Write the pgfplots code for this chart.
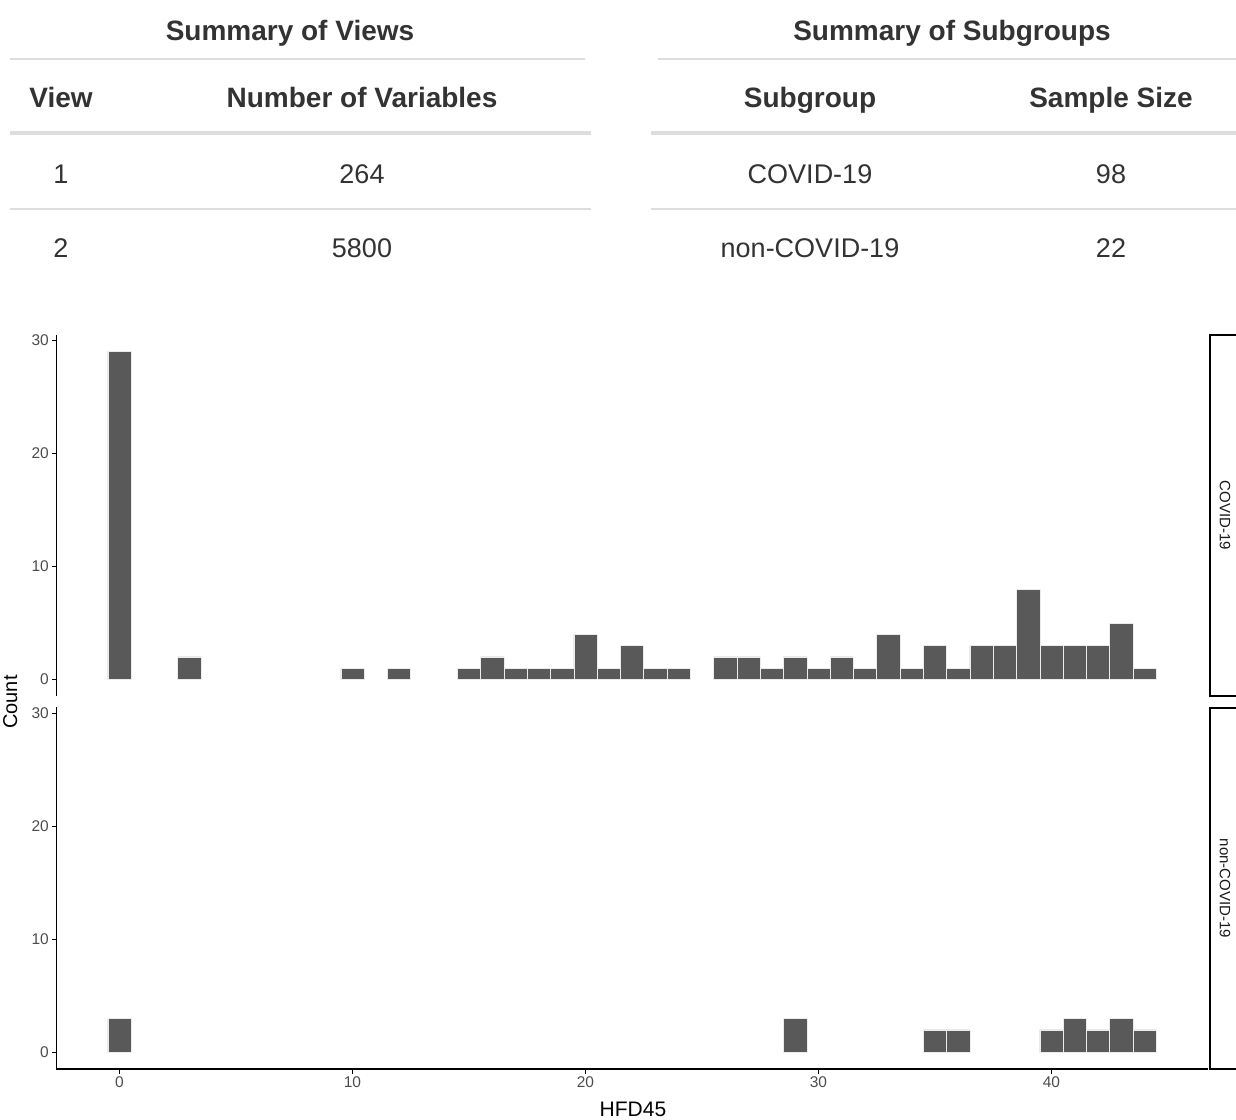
\documentclass[border=0pt]{standalone}
\usepackage{fontspec}
\setmainfont{Liberation Sans}
\usepackage{pgfplots}
\usepackage{pgfplotstable}
\pgfplotsset{compat=1.18}

\definecolor{tabtext}{HTML}{333333}
\definecolor{tabrule}{HTML}{DDDDDD}
\definecolor{barfill}{HTML}{595959}
\definecolor{ticklab}{HTML}{4D4D4D}
\definecolor{striptext}{HTML}{1A1A1A}

% HFD45 histogram counts (bin width 1, centred on integers), zero bins omitted
\pgfplotstableread{
x  n
0  29
3  2
10 1
12 1
15 1
16 2
17 1
18 1
19 1
20 4
21 1
22 3
23 1
24 1
26 2
27 2
28 1
29 2
30 1
31 2
32 1
33 4
34 1
35 3
36 1
37 3
38 3
39 8
40 3
41 3
42 3
43 5
44 1
}\covid

\pgfplotstableread{
x  n
0  3
29 3
35 2
36 2
40 2
41 3
42 2
43 3
44 2
}\noncovid

\newcommand{\tabtitle}{\fontsize{28bp}{32bp}\selectfont\bfseries}
\newcommand{\tabbody}{\fontsize{27bp}{32bp}\selectfont}

\pgfplotsset{
  facet/.style={
    scale only axis,
    width=1151bp, height=361bp,
    xmin=-2.7, xmax=46.7,
    ymin=-1.45, ymax=30.45,
    ytick={0,10,20,30},
    tick pos=left,
    tick align=outside,
    major tick length=4.5bp,
    tick style={black, line width=0.9bp},
    axis line style={draw=none},
    /pgf/number format/assume math mode=true,
    ticklabel style={font=\fontsize{15.5bp}{16bp}\selectfont, text=ticklab},
    yticklabel style={inner sep=3bp},
    xticklabel style={inner sep=3bp},
    clip=false,
  },
  histbar/.style={
    ybar, bar width=1, bar shift=0pt,
    fill=barfill, draw=white!92!black, line width=0.4bp,
  },
}

\begin{document}
\begin{tikzpicture}[x=1bp, y=1bp]

% ---- Summary of Views ----
\node[anchor=base, text=tabtext, font=\tabtitle] at (290,-40) {Summary of Views};
\draw[tabrule, line width=1.3bp] (10,-59) -- (585,-59);
\node[anchor=base, text=tabtext, font=\tabtitle] at (61,-107) {View};
\node[anchor=base, text=tabtext, font=\tabtitle] at (362,-107) {Number of Variables};
\draw[tabrule, line width=3.5bp] (10,-133) -- (591,-133);
\node[anchor=base, text=tabtext, font=\tabbody] at (61,-183) {1};
\node[anchor=base, text=tabtext, font=\tabbody] at (362,-183) {264};
\draw[tabrule, line width=1.3bp] (10,-209) -- (591,-209);
\node[anchor=base, text=tabtext, font=\tabbody] at (61,-257) {2};
\node[anchor=base, text=tabtext, font=\tabbody] at (362,-257) {5800};

% ---- Summary of Subgroups ----
\node[anchor=base, text=tabtext, font=\tabtitle] at (952,-40) {Summary of Subgroups};
\draw[tabrule, line width=1.3bp] (658,-59) -- (1236,-59);
\node[anchor=base, text=tabtext, font=\tabtitle] at (810,-107) {Subgroup};
\node[anchor=base, text=tabtext, font=\tabtitle] at (1111,-107) {Sample Size};
\draw[tabrule, line width=3.5bp] (651,-133) -- (1236,-133);
\node[anchor=base, text=tabtext, font=\tabbody] at (810,-183) {COVID-19};
\node[anchor=base, text=tabtext, font=\tabbody] at (1111,-183) {98};
\draw[tabrule, line width=1.3bp] (651,-209) -- (1236,-209);
\node[anchor=base, text=tabtext, font=\tabbody] at (810,-257) {non-COVID-19};
\node[anchor=base, text=tabtext, font=\tabbody] at (1111,-257) {22};

% ---- COVID-19 panel ----
\begin{axis}[facet, at={(56.5bp,-696bp)}, anchor=south west, xtick=\empty]
  \addplot[histbar] table[x=x, y=n] {\covid};
  \draw[black, line width=1.4bp] (rel axis cs:0,0) -- (rel axis cs:0,1);
\end{axis}

% ---- non-COVID-19 panel ----
\begin{axis}[facet, at={(56.5bp,-1069bp)}, anchor=south west, xtick={0,10,20,30,40}]
  \addplot[histbar] table[x=x, y=n] {\noncovid};
  \draw[black, line width=1.4bp, line cap=rect] (rel axis cs:0,1) -- (rel axis cs:0,0) -- (rel axis cs:1,0);
\end{axis}

% facet strips
\draw[black, line width=1.3bp, fill=white] (1210,-335) rectangle (1252,-696);
\node[rotate=-90, text=striptext, font=\fontsize{15bp}{16bp}\selectfont] at (1225,-515.5) {COVID-19};
\draw[black, line width=1.3bp, fill=white] (1210,-708) rectangle (1252,-1069);
\node[rotate=-90, text=striptext, font=\fontsize{15bp}{16bp}\selectfont] at (1225,-888.5) {non-COVID-19};

% axis titles
\node[anchor=base, font=\fontsize{21bp}{22bp}\selectfont] at (633,-1116.5) {HFD45};
\node[rotate=90, anchor=base, font=\fontsize{20bp}{22bp}\selectfont] at (17,-702) {Count};

\pgfresetboundingbox
\useasboundingbox (0,0) rectangle (1236,-1120);
\end{tikzpicture}
\end{document}
